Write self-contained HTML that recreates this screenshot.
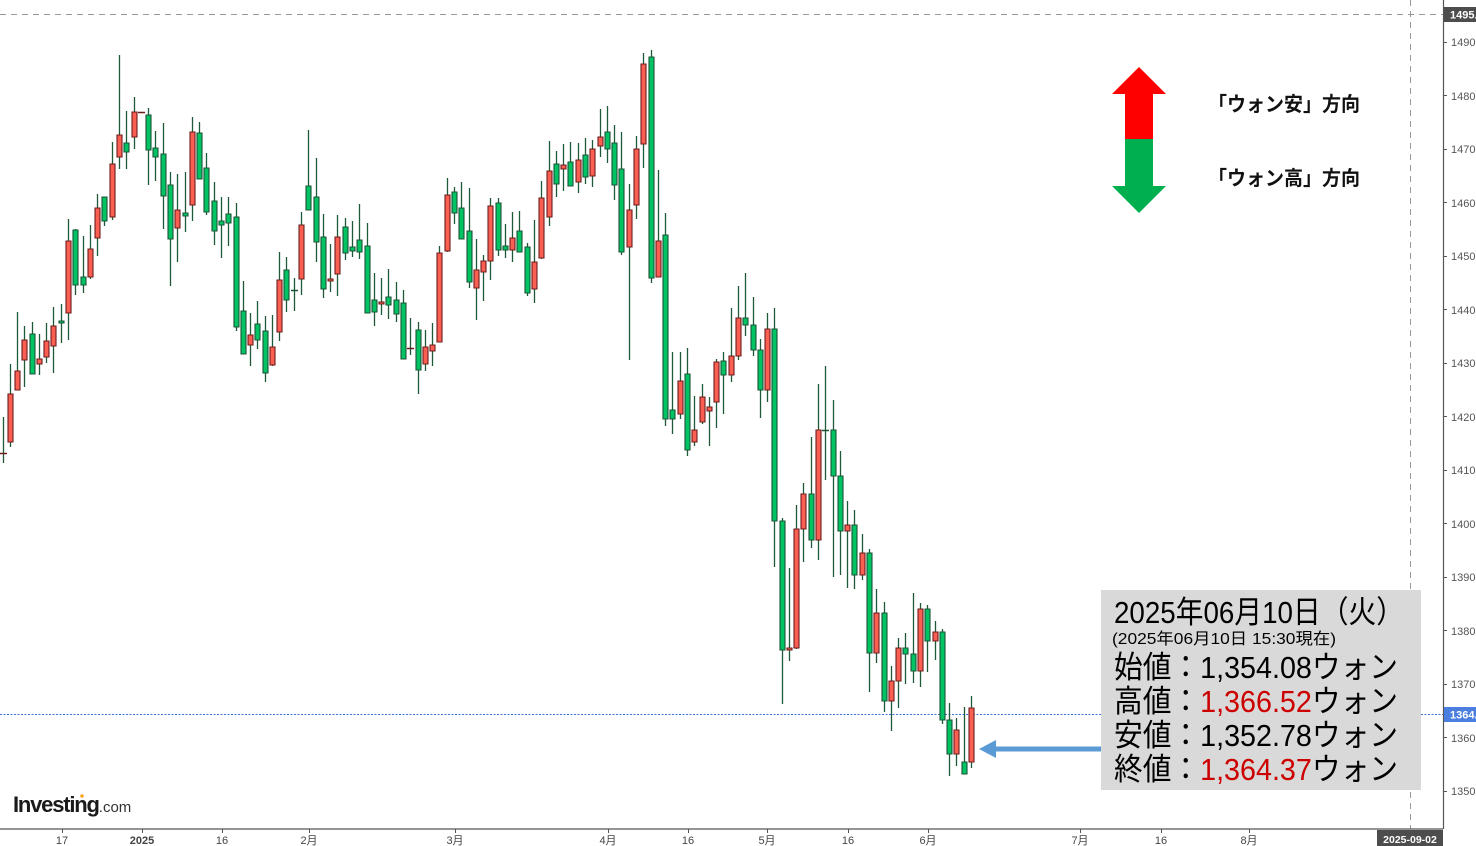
<!DOCTYPE html>
<html><head><meta charset="utf-8"><style>
html,body{margin:0;padding:0;background:#fff;}
svg{display:block;}
.ax{font-family:"Liberation Sans",sans-serif;font-size:11px;fill:#555;}
.bx{font-family:"Liberation Sans","Noto Sans CJK JP",sans-serif;font-size:11px;fill:#444;}
.jp{font-family:"Liberation Sans","Noto Sans CJK JP",sans-serif;}
</style></head><body>
<svg width="1476" height="846" viewBox="0 0 1476 846" xmlns="http://www.w3.org/2000/svg">
<rect width="1476" height="846" fill="#fff"/>
<line x1="0" y1="14.5" x2="1443" y2="14.5" stroke="#999" stroke-dasharray="6,5"/>
<line x1="1410.5" y1="0" x2="1410.5" y2="829" stroke="#999" stroke-dasharray="6,5"/>
<line x1="0" y1="714.5" x2="1443" y2="714.5" stroke="#3a6fe0" stroke-dasharray="2,1.5"/>

<path fill="none" stroke="#1e5a3a" stroke-width="1.3" d="M3.5 417V463M10.5 364V447M17.5 312V390M24.5 326V387M32.5 322V374M39.5 334V375M46.5 323V363M53.5 307V373M61.5 304V343M68.5 219V340M75.5 229V295M83.5 236V293M90.5 225V279M97.5 194V256M104.5 197V226M112.5 142V220M119.5 55V169M126.5 111V169M134.5 97V149M148.5 108V185M155.5 131V181M163.5 123V229M170.5 172V286M177.5 174V262M185.5 172V232M192.5 117V221M199.5 122V179M206.5 153V215M214.5 182V245M221.5 197V258M228.5 197V246M236.5 203V331M243.5 281V354M250.5 313V366M257.5 301V349M265.5 316V382M272.5 315V366M279.5 252V341M286.5 257V312M294.5 278V311M301.5 212V295M308.5 130V210M316.5 158V262M323.5 214V298M330.5 244V292M337.5 215V296M345.5 218V260M352.5 221V257M359.5 204V259M367.5 223V313M374.5 273V326M381.5 278V315M388.5 269V319M396.5 282V322M403.5 290V359M410.5 318V355M418.5 322V394M425.5 330V371M432.5 323V366M439.5 246V342M447.5 178V252M454.5 187V224M461.5 182V239M469.5 188V288M476.5 239V320M483.5 255V301M490.5 198V280M498.5 198V256M505.5 224V258M512.5 212V262M519.5 211V252M527.5 243V296M534.5 220V303M541.5 181V259M549.5 141V226M556.5 151V197M563.5 144V191M570.5 142V186M578.5 143V193M585.5 138V184M592.5 140V187M600.5 109V157M607.5 106V163M614.5 125V200M621.5 132V255M629.5 184V360M636.5 136V219M643.5 53V168M651.5 50V283M658.5 170V277M665.5 213V426M672.5 352V434M680.5 352V419M687.5 348V456M694.5 396V446M702.5 384V424M709.5 397V446M716.5 359V428M723.5 352V414M731.5 308V382M738.5 286V360M745.5 273V336M753.5 297V356M760.5 339V418M767.5 313V402M774.5 308V567M782.5 518V704M789.5 568V661M796.5 505V649M803.5 483V562M811.5 437V548M818.5 384V560M825.5 366V480M833.5 400V577M840.5 451V575M847.5 501V588M854.5 510V589M862.5 534V580M869.5 549V692M876.5 589V663M884.5 602V712M891.5 666V731M898.5 638V708M905.5 633V684M913.5 593V683M920.5 603V687M927.5 605V672M935.5 621V660M942.5 629V724M949.5 703V776M956.5 718V766M964.5 707V774M971.5 696V768"/>
<path fill="#fa5f52" stroke="#6b1c1c" stroke-width="1.1" d="M8 394h5v48h-5zM15 371h5v19h-5zM22 340h5v20h-5zM37 359h5v5h-5zM44 341h5v16h-5zM51 326h5v20h-5zM66 241h5v72h-5zM88 249h5v28h-5zM95 208h5v30h-5zM110 164h5v53h-5zM117 135h5v22h-5zM132 112h5v25h-5zM175 210h5v18h-5zM190 132h5v73h-5zM248 335h5v10h-5zM270 347h5v18h-5zM277 280h5v52h-5zM299 225h5v54h-5zM328 279h5v2h-5zM335 237h5v37h-5zM379 302h5v2h-5zM423 347h5v17h-5zM430 345h5v6h-5zM437 253h5v89h-5zM445 195h5v56h-5zM474 270h5v18h-5zM481 261h5v11h-5zM488 206h5v55h-5zM510 238h5v12h-5zM532 262h5v27h-5zM539 198h5v60h-5zM547 171h5v46h-5zM561 165h5v4h-5zM576 160h5v22h-5zM590 149h5v27h-5zM598 137h5v9h-5zM627 210h5v37h-5zM634 149h5v56h-5zM641 64h5v80h-5zM656 241h5v36h-5zM678 381h5v33h-5zM692 430h5v12h-5zM700 397h5v25h-5zM707 407h5v4h-5zM714 362h5v40h-5zM729 356h5v19h-5zM736 318h5v38h-5zM765 329h5v61h-5zM787 648h5v2h-5zM794 529h5v119h-5zM801 494h5v35h-5zM816 430h5v110h-5zM845 525h5v6h-5zM860 553h5v22h-5zM874 613h5v40h-5zM889 681h5v20h-5zM896 648h5v33h-5zM918 609h5v62h-5zM933 632h5v9h-5zM954 730h5v24h-5zM969 708h5v54h-5z"/>
<path fill="#00c464" stroke="#1b5436" stroke-width="1.1" d="M30 334h5v40h-5zM59 321h5v2h-5zM73 230h5v55h-5zM81 277h5v8h-5zM102 197h5v24h-5zM124 143h5v9h-5zM146 115h5v35h-5zM153 148h5v9h-5zM161 154h5v42h-5zM168 185h5v54h-5zM183 213h5v3h-5zM197 133h5v46h-5zM204 168h5v44h-5zM212 201h5v30h-5zM219 221h5v4h-5zM226 214h5v9h-5zM234 217h5v110h-5zM241 311h5v43h-5zM255 324h5v16h-5zM263 331h5v42h-5zM284 270h5v30h-5zM306 186h5v24h-5zM314 197h5v45h-5zM321 237h5v52h-5zM343 227h5v26h-5zM350 247h5v4h-5zM357 240h5v12h-5zM365 246h5v67h-5zM372 300h5v12h-5zM386 297h5v8h-5zM394 300h5v14h-5zM401 303h5v56h-5zM416 330h5v40h-5zM452 192h5v21h-5zM459 208h5v31h-5zM467 231h5v51h-5zM496 203h5v47h-5zM503 246h5v4h-5zM517 231h5v21h-5zM525 247h5v46h-5zM554 164h5v20h-5zM568 162h5v24h-5zM583 155h5v22h-5zM605 132h5v17h-5zM612 143h5v42h-5zM619 169h5v83h-5zM649 57h5v221h-5zM663 235h5v184h-5zM670 410h5v9h-5zM685 374h5v76h-5zM721 361h5v14h-5zM743 318h5v7h-5zM751 325h5v25h-5zM758 350h5v40h-5zM772 329h5v192h-5zM780 521h5v129h-5zM809 494h5v46h-5zM831 430h5v46h-5zM838 476h5v55h-5zM852 525h5v50h-5zM867 553h5v100h-5zM882 613h5v88h-5zM903 648h5v6h-5zM911 654h5v17h-5zM925 609h5v32h-5zM940 632h5v88h-5zM947 720h5v34h-5zM962 762h5v12h-5z"/>
<path stroke="#6b1c1c" stroke-width="1.5" d="M0 453.5h7M138 112.5h7M407 348.5h7"/>
<path stroke="#1b5436" stroke-width="1.5" d="M291 290.5h7M822 430.5h7"/>

<line x1="1443.5" y1="0" x2="1443.5" y2="829" stroke="#555" stroke-width="1.2"/>
<g stroke="#555"><path d="M1443 42.5h4M1443 95.5h4M1443 149.5h4M1443 202.5h4M1443 256.5h4M1443 309.5h4M1443 363.5h4M1443 416.5h4M1443 470.5h4M1443 523.5h4M1443 577.5h4M1443 630.5h4M1443 684.5h4M1443 737.5h4M1443 791.5h4"/></g>
<g class="ax">
<text x="1451" y="46">1490.00</text><text x="1451" y="100">1480.00</text><text x="1451" y="153">1470.00</text><text x="1451" y="207">1460.00</text><text x="1451" y="260">1450.00</text><text x="1451" y="314">1440.00</text><text x="1451" y="367">1430.00</text><text x="1451" y="421">1420.00</text><text x="1451" y="474">1410.00</text><text x="1451" y="528">1400.00</text><text x="1451" y="581">1390.00</text><text x="1451" y="635">1380.00</text><text x="1451" y="688">1370.00</text><text x="1451" y="742">1360.00</text><text x="1451" y="795">1350.00</text>
</g>
<rect x="1444" y="7" width="32" height="15" fill="#4d4d4d"/>
<text x="1450" y="18.5" font-family="Liberation Sans,sans-serif" font-size="11" font-weight="bold" fill="#fff">1495.00</text>
<rect x="1444" y="707" width="32" height="15" fill="#4a7fe0"/>
<text x="1450" y="718.5" font-family="Liberation Sans,sans-serif" font-size="11" font-weight="bold" fill="#fff">1364.37</text>

<line x1="0" y1="829" x2="1443" y2="829" stroke="#555" stroke-width="1.2"/>
<g stroke="#555"><path d="M62.5 829v4M142.5 829v4M222.5 829v4M309.5 829v4M455.5 829v4M608.5 829v4M688.5 829v4M767.5 829v4M848.5 829v4M928.5 829v4M1080.5 829v4M1161.5 829v4M1249.5 829v4"/></g>
<g class="bx" text-anchor="middle">
<text x="62" y="844">17</text><text x="142" y="844" font-weight="bold">2025</text><text x="222" y="844">16</text><text x="309" y="844">2月</text><text x="455" y="844">3月</text><text x="608" y="844">4月</text><text x="688" y="844">16</text><text x="767" y="844">5月</text><text x="848" y="844">16</text><text x="928" y="844">6月</text><text x="1080" y="844">7月</text><text x="1161" y="844">16</text><text x="1249" y="844">8月</text>
</g>
<rect x="1377" y="830" width="66" height="16" fill="#4d4d4d"/>
<text x="1410" y="843" text-anchor="middle" font-family="Liberation Sans,sans-serif" font-size="10.5" font-weight="bold" fill="#fff">2025-09-02</text>

<text x="13" y="812" font-family="Liberation Sans,sans-serif" font-size="22" font-weight="bold" fill="#1a1a1a" letter-spacing="-1.2">Investing<tspan font-size="15" font-weight="normal" fill="#333" letter-spacing="0">.com</tspan></text>
<circle cx="82" cy="796" r="1.8" fill="#f5a623"/>

<polygon points="1139,67 1166,94 1153,94 1153,139 1125,139 1125,94 1112,94" fill="#ff0000"/>
<polygon points="1125,139 1153,139 1153,186 1166,186 1139,213 1112,186 1125,186" fill="#00b050"/>
<text x="1208" y="111" class="jp" font-size="20" font-weight="bold" fill="#111" textLength="152" lengthAdjust="spacingAndGlyphs">「ウォン安」方向</text>
<text x="1208" y="185" class="jp" font-size="20" font-weight="bold" fill="#111" textLength="152" lengthAdjust="spacingAndGlyphs">「ウォン高」方向</text>

<rect x="1101" y="590" width="320" height="200" fill="#d9d9d9"/>
<g class="jp" fill="#000">
<text x="1114" y="623" font-size="31" textLength="290" lengthAdjust="spacingAndGlyphs">2025年06月10日（火）</text>
<text x="1112" y="644" font-size="16" textLength="224" lengthAdjust="spacingAndGlyphs">(2025年06月10日 15:30現在)</text>
<text x="1114" y="678" font-size="31" textLength="284" lengthAdjust="spacingAndGlyphs">始値：1,354.08ウォン</text>
<text x="1114" y="712" font-size="31" textLength="284" lengthAdjust="spacingAndGlyphs">高値：<tspan fill="#cc0000">1,366.52</tspan>ウォン</text>
<text x="1114" y="746" font-size="31" textLength="284" lengthAdjust="spacingAndGlyphs">安値：1,352.78ウォン</text>
<text x="1114" y="780" font-size="31" textLength="284" lengthAdjust="spacingAndGlyphs">終値：<tspan fill="#cc0000">1,364.37</tspan>ウォン</text>
</g>
<line x1="992" y1="749" x2="1101" y2="749" stroke="#5b9bd5" stroke-width="5"/>
<polygon points="979,749 996,740 996,758" fill="#5b9bd5"/>
</svg>
</body></html>
